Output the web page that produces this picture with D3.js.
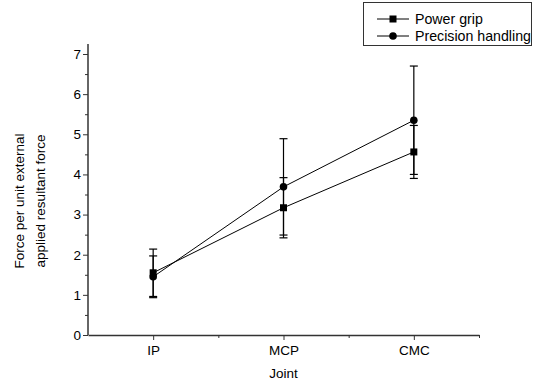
<!DOCTYPE html>
<html><head><meta charset="utf-8">
<script src="https://cdn.jsdelivr.net/npm/d3@7/dist/d3.min.js"></script>
<style>body{margin:0;background:#fff}svg{display:block}text{font-family:"Liberation Sans",Arial,sans-serif}</style>
</head><body>
<svg id="c" width="537" height="382"></svg>
<script>
const categories = ["IP", "MCP", "CMC"];
const seriesNames = ["Power grip", "Precision handling"];
const powerMean = [1.55, 3.17, 4.56];
const powerErr = [0.59, 0.75, 0.66];
const precisionMean = [1.45, 3.69, 5.35];
const precisionErr = [0.52, 1.2, 1.35];
const yTicks = [0, 1, 2, 3, 4, 5, 6, 7];

const svg = d3.select("#c");
const x = d3.scaleLinear().domain([0.5, 3.5]).range([88, 479]);
const y = d3.scaleLinear().domain([0, 7]).range([335, 54]);
const axisColor = "#333";
const fs = 13.5;
const fsLegend = 14.2;

// axes
const xAxis = d3.axisBottom(x).tickValues([1, 2, 3]).tickFormat((d) => categories[d - 1]).tickSize(5).tickSizeOuter(0);
const gx = svg.append("g").attr("transform", "translate(0,335)").call(xAxis);
gx.select(".domain").attr("stroke", axisColor).attr("stroke-width", 1.5);
gx.selectAll(".tick line").attr("stroke", axisColor);
gx.selectAll(".tick text").attr("font-size", fs).attr("fill", "#000").attr("dy", "0.9em").attr("font-family", "Liberation Sans, Arial, sans-serif");
const xMinor = d3.axisBottom(x).tickValues([1.5, 2.5, 3.5]).tickFormat("").tickSize(3).tickSizeOuter(0);
const gx2 = svg.append("g").attr("transform", "translate(0,335)").call(xMinor);
gx2.select(".domain").remove();
gx2.selectAll(".tick line").attr("stroke", axisColor);

const yAxis = d3.axisLeft(y).tickValues(yTicks).tickFormat(d3.format("d")).tickSize(5).tickSizeOuter(0);
const gy = svg.append("g").attr("transform", "translate(88,0)").call(yAxis);
gy.select(".domain").attr("stroke", axisColor).attr("stroke-width", 1.5).attr("d", `M0,${y(0)}V${y(7.25)}`);
gy.selectAll(".tick line").attr("stroke", axisColor);
gy.selectAll(".tick text").attr("font-size", fs).attr("fill", "#000").attr("x", -7).attr("font-family", "Liberation Sans, Arial, sans-serif");
const yMinor = d3.axisLeft(y).tickValues(d3.range(0.5, 7.5, 1)).tickFormat("").tickSize(3).tickSizeOuter(0);
const gy2 = svg.append("g").attr("transform", "translate(88,0)").call(yMinor);
gy2.select(".domain").remove();
gy2.selectAll(".tick line").attr("stroke", axisColor);

// axis titles
svg.append("text").attr("x", 283.5).attr("y", 378).attr("text-anchor", "middle").attr("font-size", fs).text("Joint");
const yt = svg.append("text").attr("transform", "translate(0,201) rotate(-90)").attr("text-anchor", "middle").attr("font-size", fs);
yt.append("tspan").attr("x", 0).attr("y", 24).text("Force per unit external");
yt.append("tspan").attr("x", 0).attr("y", 45).text("applied resultant force");

const series = [
  { name: seriesNames[0], mean: powerMean, err: powerErr, shape: "square" },
  { name: seriesNames[1], mean: precisionMean, err: precisionErr, shape: "circle" }
];
const line = d3.line().x((d, i) => x(i + 1)).y((d) => y(d));

series.forEach((s) => {
  svg.append("path").attr("d", line(s.mean)).attr("fill", "none").attr("stroke", "#000").attr("stroke-width", 1);
});
series.forEach((s) => {
  const g = svg.append("g").attr("stroke", "#000").attr("stroke-width", 1.2);
  s.mean.forEach((m, i) => {
    const cx = x(i + 1);
    g.append("line").attr("x1", cx).attr("x2", cx).attr("y1", y(m - s.err[i])).attr("y2", y(m + s.err[i]));
    [m - s.err[i], m + s.err[i]].forEach((v) => {
      g.append("line").attr("x1", cx - 4).attr("x2", cx + 4).attr("y1", y(v)).attr("y2", y(v));
    });
  });
});
function marker(g, shape, cx, cy) {
  if (shape === "square") g.append("rect").attr("x", cx - 3.5).attr("y", cy - 3.5).attr("width", 7).attr("height", 7).attr("fill", "#000");
  else g.append("circle").attr("cx", cx).attr("cy", cy).attr("r", 3.8).attr("fill", "#000");
}
series.forEach((s) => {
  const g = svg.append("g");
  s.mean.forEach((m, i) => marker(g, s.shape, x(i + 1), y(m)));
});

// legend
const lg = svg.append("g");
lg.append("rect").attr("x", 363.5).attr("y", 2.5).attr("width", 168).attr("height", 43).attr("fill", "#fff").attr("stroke", "#333").attr("stroke-width", 1);
series.forEach((s, i) => {
  const cy = 19 + i * 17;
  lg.append("line").attr("x1", 377).attr("x2", 409).attr("y1", cy).attr("y2", cy).attr("stroke", "#000").attr("stroke-width", 1);
  marker(lg, s.shape, 393, cy);
  lg.append("text").attr("x", 415).attr("y", cy).attr("dy", "0.36em").attr("font-size", fsLegend).text(s.name);
});
</script>
</body></html>
